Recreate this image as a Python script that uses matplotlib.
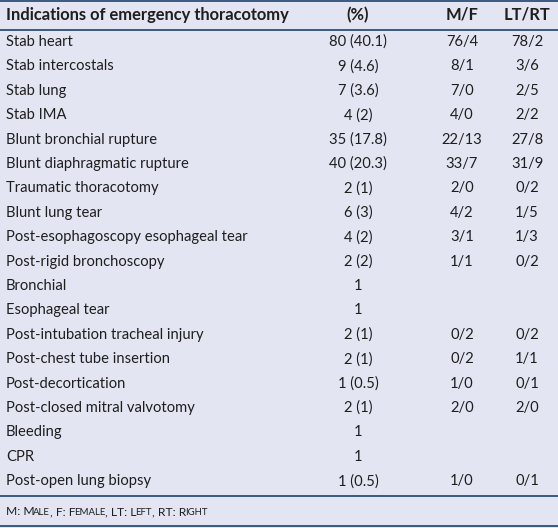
import matplotlib.pyplot as plt

plt.rcParams['font.family'] = ['Lato', 'DejaVu Sans']

headers = ['Indications of emergency thoracotomy', '(%)', 'M/F', 'LT/RT']
indications = [
    'Stab heart', 'Stab intercostals', 'Stab lung', 'Stab IMA',
    'Blunt bronchial rupture', 'Blunt diaphragmatic rupture',
    'Traumatic thoracotomy', 'Blunt lung tear',
    'Post-esophagoscopy esophageal tear', 'Post-rigid bronchoscopy',
    'Bronchial', 'Esophageal tear', 'Post-intubation tracheal injury',
    'Post-chest tube insertion', 'Post-decortication',
    'Post-closed mitral valvotomy', 'Bleeding', 'CPR', 'Post-open lung biopsy',
]
counts = ['80 (40.1)', '9 (4.6)', '7 (3.6)', '4 (2)', '35 (17.8)', '40 (20.3)',
          '2 (1)', '6 (3)', '4 (2)', '2 (2)', '1', '1', '2 (1)', '2 (1)',
          '1 (0.5)', '2 (1)', '1', '1', '1 (0.5)']
male_female = ['76/4', '8/1', '7/0', '4/0', '22/13', '33/7', '2/0', '4/2', '3/1',
               '1/1', '', '', '0/2', '0/2', '1/0', '2/0', '', '', '1/0']
left_right = ['78/2', '3/6', '2/5', '2/2', '27/8', '31/9', '0/2', '1/5', '1/3',
              '0/2', '', '', '0/2', '1/1', '0/1', '2/0', '', '', '0/1']
# footnote in small caps: (text, is_capital)
footnote = [('M: M', True), ('ALE', False), (', F: F', True), ('EMALE', False),
            (', LT: L', True), ('EFT', False), (', RT: R', True), ('IGHT', False)]

W, H = 558, 528
bg = '#e4e5f2'
line_col = '#2b4f7a'
txt = '#1e1e1e'

fig = plt.figure(figsize=(W / 100, H / 100), dpi=100, facecolor=bg)
ax = fig.add_axes([0, 0, 1, 1])
ax.set_xlim(0, W)
ax.set_ylim(H, 0)
ax.axis('off')
ax.set_facecolor(bg)

col_x = [6, 358, 462, 527]
fs = 10.6

# horizontal rules
for y in [1, 29.5, 496, 526]:
    ax.axhline(y, color=line_col, lw=1.3)

# header
ax.text(col_x[0], 15, headers[0], fontsize=11.9, fontweight='bold', color=txt, va='center', ha='left')
for x, h in zip(col_x[1:], headers[1:]):
    ax.text(x, 15, h, fontsize=11.9, fontweight='bold', color=txt, va='center', ha='center')

row0, pitch = 42, 24.4
for i, name in enumerate(indications):
    y = row0 + i * pitch
    ax.text(col_x[0], y, name, fontsize=fs, color=txt, va='center', ha='left')
    ax.text(col_x[1], y, counts[i], fontsize=fs, color=txt, va='center', ha='center')
    ax.text(col_x[2], y, male_female[i], fontsize=fs, color=txt, va='center', ha='center')
    ax.text(col_x[3], y, left_right[i], fontsize=fs, color=txt, va='center', ha='center')

# footnote: place pieces one after another, measuring each rendered width
renderer = fig.canvas.get_renderer()
x = col_x[0]
for piece, cap in footnote:
    t = ax.text(x, 515, piece, fontsize=8.7 if cap else 6.9, color=txt, va='baseline', ha='left')
    bb = t.get_window_extent(renderer=renderer)
    x += bb.width - (1.5 if cap else 0)

fig.savefig('out.png', dpi=100, facecolor=bg)
